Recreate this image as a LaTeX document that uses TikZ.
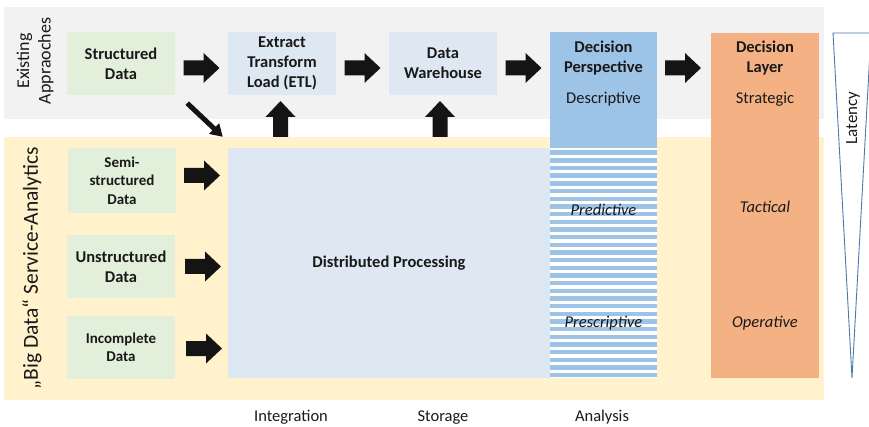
\documentclass[tikz,border=0pt]{standalone}
\usepackage{fontspec}
\setmainfont{Carlito}
\usetikzlibrary{calc,arrows.meta}
\definecolor{bandgray}{RGB}{242,242,242}
\definecolor{bandyellow}{RGB}{255,242,204}
\definecolor{boxgreen}{RGB}{226,239,218}
\definecolor{boxblue}{RGB}{222,232,242}
\definecolor{dpblue}{RGB}{157,195,230}
\definecolor{dlorange}{RGB}{244,177,131}
\definecolor{arrowc}{RGB}{20,20,20}
\definecolor{txt}{RGB}{25,25,25}
\definecolor{latc}{RGB}{80,120,170}
\tikzset{
  rarr/.pic={\fill[arrowc] (-18,-7.5) -- (2,-7.5) -- (2,-15) -- (18,0) -- (2,15) -- (2,7.5) -- (-18,7.5) -- cycle;}
}
\begin{document}
\begin{tikzpicture}[x=1pt,y=-1pt,
  every node/.style={text=txt, font=\fontsize{16.5}{20}\selectfont},
  band/.style={inner sep=0, minimum width=820},
  databox/.style={fill=boxgreen, inner sep=0, minimum width=108, minimum height=63, align=center, font=\fontsize{16.5}{20}\selectfont\bfseries},
  smalldata/.style={databox, font=\fontsize{15}{18.3}\selectfont\bfseries},
  procbox/.style={fill=boxblue, inner sep=0, minimum width=108, minimum height=63, align=center, font=\fontsize{16.5}{20}\selectfont\bfseries},
  titlef/.style={align=center, font=\fontsize{16.5}{20}\selectfont\bfseries},
  itf/.style={anchor=base, font=\fontsize{16.5}{20}\selectfont\itshape},
  rmf/.style={anchor=base},
  diag/.style={line width=5pt, draw=arrowc, -{Triangle[length=12pt,width=14pt]}}
]
\useasboundingbox (0,0) rectangle (869,427);
% bands
\node[band, fill=bandgray, minimum height=112] (exband) at (414,63) {};
\node[band, fill=bandyellow, minimum height=263] (bigband) at (414,268.5) {};
% data boxes
\node[databox] (sd) at (121,63.5) {Structured\\Data};
\node[smalldata, minimum height=65] (semi) at (122,180.5) {Semi-\\structured\\Data};
\node[databox] (uns) at (121,266.5) {Unstructured\\Data};
\node[smalldata] (inc) at (121,347.5) {Incomplete\\Data};
% processing
\node[procbox] (etl) at (282,63.5) {Extract\\Transform\\Load (ETL)};
\node[procbox] (dw) at (443,63.5) {Data\\Warehouse};
\node[procbox, minimum width=322, minimum height=230] (dist) at (389,263) {Distributed Processing};
% decision perspective
\node[fill=dpblue, inner sep=0, minimum width=107, minimum height=116] (dp) at (603.5,90) {};
\node[fill=white, inner sep=0, minimum width=107, minimum height=230] (dps) at (603.5,263) {};
\foreach \i in {0,...,29}
  \fill[dpblue] (550,{150.5+\i*7.667}) rectangle (657,{155.1+\i*7.667});
\node[titlef] (dpt) at (603.5,58.5) {Decision\\Perspective};
\node[rmf] (desc) at (603.5,104) {Descriptive};
\node[itf] (pred) at (603.5,215.5) {Predictive};
\node[itf] (presc) at (603.5,327) {Prescriptive};
% decision layer
\node[fill=dlorange, inner sep=0, minimum width=108, minimum height=345] (dl) at (765,205.5) {};
\node[titlef] (dlt) at (765,58.5) {Decision\\Layer};
\node[rmf] (strat) at (765,104) {Strategic};
\node[itf] (tact) at (765,213) {Tactical};
\node[itf] (oper) at (765,327) {Operative};
% latency
\coordinate (la) at (833,33);
\coordinate (lb) at (871,33);
\coordinate (lc) at (852,378);
\draw[latc, line width=0.9pt, line join=miter] (la) -- (lb) -- (lc) -- cycle;
\node[rotate=90, font=\fontsize{17}{20}\selectfont] (lat) at (853,118) {Latency};
% side labels
\node[rotate=90, align=center, font=\fontsize{18}{21.5}\selectfont] (exlabel) at (35,61) {Existing\\Appraoches};
\node[rotate=90, font=\fontsize{21.5}{25}\selectfont] (bdlabel) at (32,268) {„Big Data“ Service-Analytics};
% bottom labels
\node[rmf] (integ) at (291,421) {Integration};
\node[rmf] (stor) at (443,421) {Storage};
\node[rmf] (anal) at (602,421) {Analysis};
% block arrows
\pic at ($(sd.east)!0.5!(etl.west)+(0,4.5)$) {rarr};
\pic at ($(etl.east)!0.5!(dw.west)+(0,4.5)$) {rarr};
\pic at ($(dw.east)!0.5!(dp.west |- dw.east)+(0,4.5)$) {rarr};
\pic at ($(dp.east |- dw.east)!0.5!(dl.west |- dw.east)+(-1,4.5)$) {rarr};
\pic at ($(semi.east)!0.5!(dist.west |- semi.east)+(0,-5)$) {rarr};
\pic at ($(uns.east)!0.5!(dist.west |- uns.east)+(1.5,0)$) {rarr};
\pic at ($(inc.east)!0.5!(dist.west |- inc.east)+(2.5,1)$) {rarr};
\pic[rotate=90] at ($(etl.south)!0.5!(etl.south |- bigband.north)+(-1.5,3)$) {rarr};
\pic[rotate=90] at ($(dw.south)!0.5!(dw.south |- bigband.north)+(-3,3)$) {rarr};
% diagonal arrow
\draw[diag] ($(sd.south east)+(12,8)$) -- ($(dist.north west)+(-5,-11)$);
\end{tikzpicture}
\end{document}
